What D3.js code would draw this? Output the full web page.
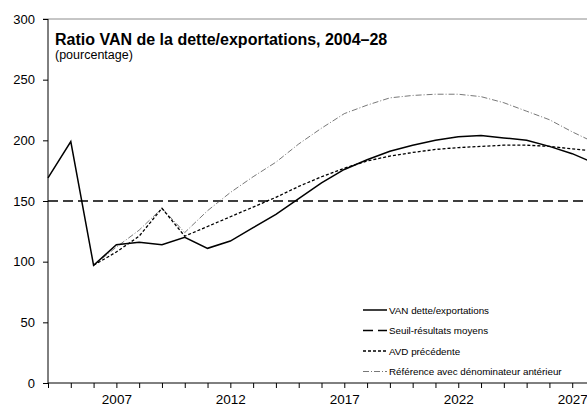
<!DOCTYPE html>
<html>
<head>
<meta charset="utf-8">
<script src="https://cdn.jsdelivr.net/npm/d3@7"></script>
<style>
  body { margin: 0; background: #fff; }
  svg { display: block; font-family: Arial, "Liberation Sans", sans-serif; }
</style>
</head>
<body>
<div id="chart"></div>
<script>
// years on the x axis
var years = [2004, 2005, 2006, 2007, 2008, 2009, 2010, 2011, 2012, 2013, 2014, 2015, 2016,
             2017, 2018, 2019, 2020, 2021, 2022, 2023, 2024, 2025, 2026, 2027, 2028]
// VAN dette/exportations
var vanRatio = [169, 199, 97, 114, 116, 114, 120, 111, 117, 128, 139, 152, 165,
                176, 184, 191, 196, 200, 203, 204, 202, 200, 195, 189, 181]
// AVD précédente
var avdPrev = [null, null, 97, 108, 121, 144, 121, 129, 137, 145, 153, 162, 170,
               177, 183, 187, 190, 192.5, 194, 195, 196, 196, 195, 193, 191]
// Référence avec dénominateur antérieur
var refPrev = [null, null, 97, 112, 126, 144, 124, 142, 157, 170, 182, 197, 210,
               222, 229, 235, 237, 238, 238, 236, 231, 224, 217, 207, 198]
// Seuil-résultats moyens
var threshold = 150

var yTicks = [0, 50, 100, 150, 200, 250, 300]
var xLabels = [2007, 2012, 2017, 2022, 2027]
var legendLabels = ["VAN dette/exportations", "Seuil-résultats moyens",
                    "AVD précédente", "Référence avec dénominateur antérieur"]

var W = 587, H = 408
var svg = d3.select("#chart").append("svg")
    .attr("width", W)
    .attr("height", H)

var x = d3.scaleLinear().domain([2004, 2028]).range([48, 595])
var y = d3.scaleLinear().domain([0, 300]).range([383, 19])

// top border (grey)
svg.append("line")
    .attr("x1", 43).attr("x2", W)
    .attr("y1", y(300)).attr("y2", y(300))
    .attr("stroke", "#8c8c8c").attr("stroke-width", 1)

// y axis
var yAxis = svg.append("g")
    .attr("transform", "translate(48,0)")
    .call(d3.axisLeft(y).tickValues(yTicks).tickSize(5).tickPadding(8))
yAxis.select(".domain").attr("stroke", "#000").attr("d", "M0," + y(300) + "V" + y(0))
yAxis.selectAll("text").attr("font-size", 13).attr("fill", "#000")
yAxis.selectAll(".tick line").attr("stroke", "#000")

// x axis, a tick each year, labels every 5 years
var xAxis = svg.append("g")
    .attr("transform", "translate(0," + y(0) + ")")
    .call(d3.axisBottom(x).tickValues(years).tickSize(5).tickPadding(6)
      .tickFormat(function(d) { return xLabels.indexOf(d) >= 0 ? d : "" }))
xAxis.select(".domain").attr("stroke", "#000").attr("d", "M48,0H" + 595)
xAxis.selectAll("text").attr("font-size", 13.5).attr("fill", "#000")
xAxis.selectAll(".tick line").attr("stroke", "#000")

// title
svg.append("text")
    .attr("x", 55).attr("y", 45)
    .attr("font-size", 16).attr("font-weight", "bold")
    .text("Ratio VAN de la dette/exportations, 2004\u201328")
svg.append("text")
    .attr("x", 55).attr("y", 59)
    .attr("font-size", 12.5)
    .text("(pourcentage)")

var styles = [
  { color: "#000", width: 1.5, dash: null },
  { color: "#000", width: 1.5, dash: "10,5" },
  { color: "#000", width: 1.3, dash: "3,2" },
  { color: "#555", width: 0.8, dash: "6,2,1,2" }
]

var line = d3.line()
    .defined(function(d) { return d != null })
    .x(function(d, i) { return x(years[i]) })
    .y(function(d) { return y(d) })

// threshold line
svg.append("line")
    .attr("x1", x(2004)).attr("x2", x(2028))
    .attr("y1", y(threshold)).attr("y2", y(threshold))
    .attr("stroke", styles[1].color)
    .attr("stroke-width", styles[1].width)
    .attr("stroke-dasharray", styles[1].dash)

var series = [[refPrev, styles[3]], [avdPrev, styles[2]], [vanRatio, styles[0]]]
series.forEach(function(s) {
  svg.append("path")
    .datum(s[0])
    .attr("fill", "none")
    .attr("stroke", s[1].color)
    .attr("stroke-width", s[1].width)
    .attr("stroke-dasharray", s[1].dash)
    .attr("d", line)
})

// legend
var legend = svg.append("g").attr("transform", "translate(363,310)")
legendLabels.forEach(function(lbl, i) {
  var g = legend.append("g").attr("transform", "translate(0," + (i * 20.5) + ")")
  g.append("line")
    .attr("x1", 0).attr("x2", 24).attr("y1", 0).attr("y2", 0)
    .attr("stroke", styles[i].color)
    .attr("stroke-width", styles[i].width)
    .attr("stroke-dasharray", styles[i].dash)
  g.append("text")
    .attr("x", 26).attr("y", 3.5)
    .attr("font-size", 9.8)
    .text(lbl)
})
</script>
</body>
</html>
